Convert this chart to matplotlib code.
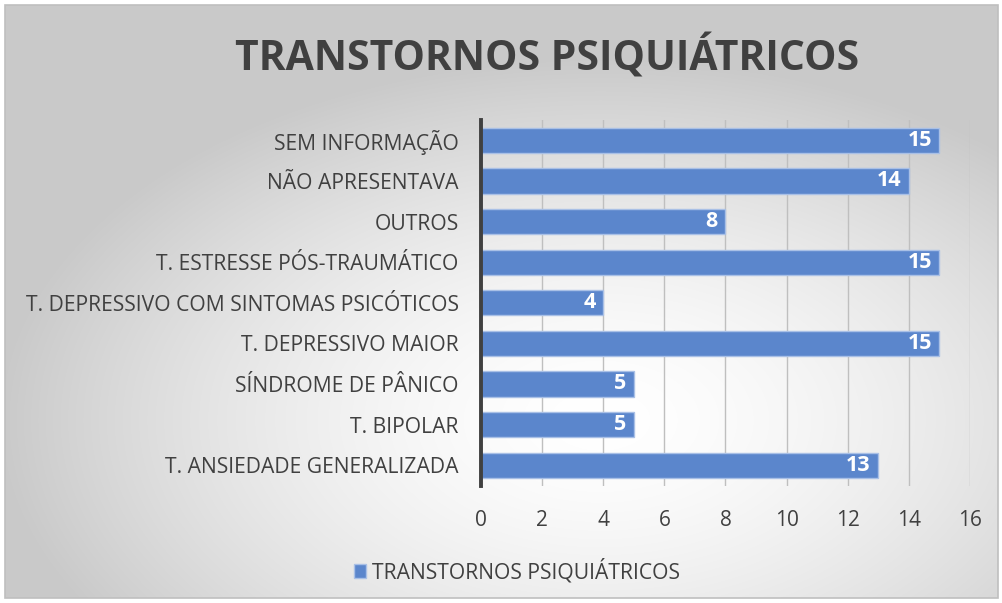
import numpy as np
import matplotlib
matplotlib.use("Agg")
import matplotlib.pyplot as plt
from matplotlib.patches import Rectangle

categories = [
    "T. ANSIEDADE GENERALIZADA",
    "T. BIPOLAR",
    "SÍNDROME DE PÂNICO",
    "T. DEPRESSIVO MAIOR",
    "T. DEPRESSIVO COM SINTOMAS PSICÓTICOS",
    "T. ESTRESSE PÓS-TRAUMÁTICO",
    "OUTROS",
    "NÃO APRESENTAVA",
    "SEM INFORMAÇÃO",
]
values = [13, 5, 5, 15, 4, 15, 8, 14, 15]
series_name = "TRANSTORNOS PSIQUIÁTRICOS"
title = "TRANSTORNOS PSIQUIÁTRICOS"
xticks = [0, 2, 4, 6, 8, 10, 12, 14, 16]

plt.rcParams['font.family'] = ['Open Sans', 'DejaVu Sans']

W, H = 1003, 603
fig = plt.figure(figsize=(W / 100, H / 100), dpi=100)

# background radial gradient
bg = fig.add_axes([0, 0, 1, 1], zorder=-10)
yy, xx = np.mgrid[0:H, 0:W]
cx, cy = 600, 420
r = np.sqrt(((xx - cx) / (W / 2)) ** 2 + ((yy - cy) / (H / 2)) ** 2)
val = 1.0 - 0.21 * np.clip(r / 1.2, 0, 1) ** 1.6
img = np.dstack([val, val, val])
bg.imshow(img, extent=[0, W, H, 0], aspect='auto', interpolation='bilinear')
bg.set_xlim(0, W)
bg.set_ylim(H, 0)
bg.axis('off')
for (x0, y0, w, h) in [(0, 0, W, 5), (0, H - 5, W, 5), (0, 0, 5, H), (W - 5, 0, 5, H)]:
    bg.add_patch(Rectangle((x0, y0), w, h, facecolor='white', edgecolor='none'))
bg.add_patch(Rectangle((5, 5), W - 10, H - 10, facecolor='none', edgecolor='#bfbfbf', lw=1.2))

left, right = 481 / W, 970 / W
top, bottom = 1 - 120 / H, 1 - 485.5 / H
ax = fig.add_axes([left, bottom, right - left, top - bottom])
ax.set_facecolor('none')

y = np.arange(len(categories))
bars = ax.barh(y, values, height=0.62, color='#5b86cc', edgecolor='#a9c0e6', linewidth=1.0,
               label=series_name, zorder=3)
ax.set_xlim(0, 16)
ax.set_ylim(-0.5, len(categories) - 0.5)
ax.set_xticks(xticks)
ax.set_xticklabels([str(t) for t in xticks], fontsize=15, color='#404040')
ax.set_yticks(y)
ax.set_yticklabels(categories, fontsize=15.2, color='#404040')
ax.tick_params(axis='both', length=0)
ax.tick_params(axis='x', pad=18)
ax.tick_params(axis='y', pad=16)
ax.grid(axis='x', color='#bfbfbf', linewidth=1.0, zorder=0)
for s in ['top', 'right', 'bottom']:
    ax.spines[s].set_visible(False)
ax.spines['left'].set_color('#404040')
ax.spines['left'].set_linewidth(2.8)
ax.spines['left'].set_zorder(5)

for yi, v in zip(y, values):
    ax.text(v - 0.25, yi, str(v), ha='right', va='center', color='white',
            fontsize=15.5, fontweight='bold', zorder=6)

fig.text(547 / W, 1 - 58 / H, title, ha='center', va='center', fontsize=29.4,
         fontweight='bold', color='#404040')

leg = fig.legend(handles=[bars], labels=[series_name], loc='center',
                 bbox_to_anchor=(517 / W, 1 - 571 / H), frameon=False,
                 fontsize=15.2, handlelength=0.6, handleheight=0.6, handletextpad=0.3)
for t in leg.get_texts():
    t.set_color('#404040')

fig.savefig('out.png', dpi=100)
